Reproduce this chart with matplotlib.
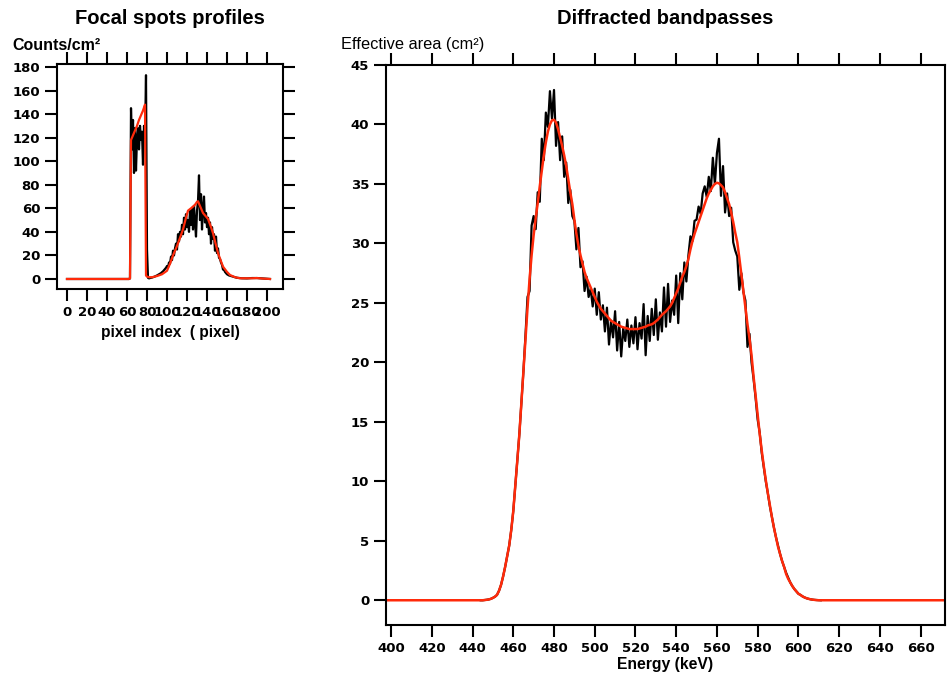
import matplotlib
matplotlib.use('Agg')
import matplotlib.pyplot as plt
from matplotlib.font_manager import FontProperties

# ---- left panel: focal spot profiles (pixel index vs counts/cm2) ----
spot_px = [0, 62, 63, 64, 65, 66, 67, 68, 69, 70, 71, 72, 73, 74, 75, 76, 77, 78, 79, 80,
           81, 82, 83, 84, 85, 86, 87, 88, 89, 90, 91, 92, 93, 94, 95, 96, 97, 98, 99,
           100, 101, 102, 103, 104, 105, 106, 107, 108, 109, 110, 111, 112, 113, 114, 115,
           116, 117, 118, 119, 120, 121, 122, 123, 124, 125, 126, 127, 128, 129, 130, 131,
           132, 133, 134, 135, 136, 137, 138, 139, 140, 141, 142, 143, 144, 145, 146, 147,
           148, 149, 150, 151, 152, 153, 154, 155, 156, 157, 158, 159, 160, 162, 164, 166,
           168, 170, 175, 180, 185, 190, 195, 203]
spot_counts = [0, 0, 0.5, 145, 110, 135, 90, 128, 92, 120, 128, 110, 130, 118, 125, 97, 130, 120, 173, 25,
               1, 0.5, 0.8, 1, 1.2, 1.5, 1.8, 2.2, 2.6, 3, 3.5, 4, 4.5, 5, 5.8, 6.5, 7.5, 8.5, 9.5,
               11, 10, 14, 13, 19, 16, 24, 20, 26, 30, 25, 38, 32, 40, 36, 46,
               38, 52, 42, 55, 44, 50, 40, 58, 46, 60, 42, 62, 48, 36, 58, 66,
               88, 50, 72, 42, 60, 70, 48, 56, 44, 52, 38, 48, 30, 44, 34, 38,
               24, 36, 22, 26, 18, 17, 14, 12, 8, 8, 6, 5, 4, 3, 2.5, 2,
               1.5, 1, 0.6, 0.5, 0.8, 0.8, 0.5, 0]

fit_px = [0, 62, 63, 64, 66, 68, 70, 72, 74, 76, 78, 79, 80, 82, 85, 90, 95, 100, 103,
          106, 110, 113, 116, 119, 121, 124, 128, 130, 131, 133, 136, 139, 141, 144, 146,
          148, 151, 154, 156, 160, 163, 168, 173, 185, 190, 195, 203]
fit_counts = [0, 0, 0.5, 118, 122, 126, 130, 135, 139, 143, 148, 3, 2, 1.5, 1.5, 2.5, 4, 7, 13,
              20, 28, 35, 42, 52, 58, 60, 63, 65.5, 66, 62, 56, 53, 51, 44, 38.8,
              32, 22, 15, 10.5, 6, 3.4, 1.5, 0.6, 0.6, 0.8, 0.4, 0]

# ---- right panel: diffracted bandpasses (energy vs effective area), 444..611 keV ----
energy = list(range(444, 612))
area_meas = [
    0, 0, 0.02, 0.04, 0.07, 0.12, 0.2, 0.3, 0.45, 0.8,              # 444
    1.3, 2.0, 2.8, 3.7, 4.6, 5.9, 7.5, 9.6, 11.8, 14.0,             # 454
    16.6, 19.3, 22.3, 25.5, 26.0, 31.5, 32.3, 31.2, 34.3, 33.5,     # 464
    38.8, 37.0, 41.0, 39.8, 42.8, 40.5, 42.9, 38.2, 40.2, 37.0,     # 474
    39.0, 35.6, 36.8, 33.4, 34.5, 32.3, 31.9, 29.5, 31.3, 28.0,     # 484
    28.5, 26.0, 27.2, 25.5, 26.2, 24.7, 26.2, 24.0, 25.9, 23.6,     # 494
    24.8, 22.6, 24.6, 21.5, 23.5, 22.1, 24.3, 21.0, 23.4, 20.5,     # 504
    22.9, 21.8, 23.6, 21.3, 23.1, 21.6, 23.8, 21.1, 23.3, 22.0,     # 514
    24.9, 20.6, 23.9, 21.8, 24.5, 22.3, 25.3, 21.9, 24.2, 22.6,     # 524
    26.3, 23.0, 26.6, 23.4, 25.2, 24.0, 27.3, 23.3, 27.5, 25.3,     # 534
    28.4, 26.8, 29.0, 30.6, 30.2, 31.9, 32.0, 33.1, 32.5, 34.2,     # 544
    34.8, 33.9, 35.6, 34.4, 37.2, 35.0, 37.6, 38.8, 34.0, 36.5,     # 554
    32.6, 34.2, 32.3, 33.0, 30.1, 29.4, 28.9, 26.1, 27.5, 25.9,     # 564
    25.2, 21.3, 22.4, 20.0, 18.6, 17.0, 15.2, 14.1, 12.4, 11.2,     # 574
    10.0, 9.0, 7.9, 7.0, 6.1, 5.3, 4.6, 3.9, 3.3, 2.8,              # 584
    2.3, 1.9, 1.5, 1.2, 0.95, 0.75, 0.55, 0.45, 0.33, 0.24,         # 594
    0.17, 0.12, 0.08, 0.05, 0.03, 0.02, 0.01, 0]                    # 604
area_fit = [
    0, 0, 0.02, 0.04, 0.07, 0.12, 0.2, 0.3, 0.45, 0.8,
    1.3, 2.0, 2.8, 3.7, 4.6, 5.9, 7.5, 9.6, 11.8, 14.0,
    16.6, 19.3, 22.0, 24.6, 27.0, 29.0, 30.7, 32.1, 33.4, 34.8,
    36.1, 37.4, 38.5, 39.4, 40.0, 40.35, 40.4, 40.15, 39.6, 38.9,
    38.2, 37.4, 36.5, 35.4, 34.3, 33.3, 32.0, 30.8, 29.8, 29.0,
    28.3, 27.6, 27.1, 26.7, 26.3, 25.9, 25.5, 25.1, 24.8, 24.5,
    24.3, 24.1, 23.9, 23.7, 23.5, 23.4, 23.3, 23.2, 23.1, 23.0,
    22.95, 22.9, 22.85, 22.8, 22.8, 22.8, 22.8, 22.8, 22.85, 22.9,
    22.95, 23.0, 23.1, 23.15, 23.2, 23.3, 23.45, 23.6, 23.8, 24.0,
    24.15, 24.3, 24.5, 24.7, 25.0, 25.4, 25.8, 26.2, 26.7, 27.2,
    27.6, 28.1, 28.7, 29.5, 30.2, 30.8, 31.3, 31.8, 32.3, 32.8,
    33.3, 33.8, 34.2, 34.5, 34.8, 35.0, 35.1, 35.05, 34.9, 34.7,
    34.3, 33.8, 33.3, 32.6, 31.8, 30.9, 30.1, 28.8, 27.4, 26.0,
    24.6, 23.2, 22.0, 20.6, 18.8, 17.2, 15.6, 14.0, 12.6, 11.3,
    10.1, 9.0, 8.0, 7.0, 6.1, 5.3, 4.5, 3.9, 3.3, 2.8,
    2.2, 1.8, 1.5, 1.2, 0.95, 0.75, 0.55, 0.45, 0.33, 0.24,
    0.17, 0.12, 0.08, 0.05, 0.03, 0.01, 0, 0]
# the fit runs flat at zero across the whole energy window
fit_energy = [397.5] + energy + [672]
fit_area = [0] + area_fit + [0]

spot_xticks = list(range(0, 201, 20))
spot_yticks = list(range(0, 181, 20))
energy_ticks = list(range(400, 661, 20))
area_ticks = list(range(0, 46, 5))

RED = '#ff2a0a'
tickfont = FontProperties(family='DejaVu Sans', weight='bold', size=9.5)
labfont = {'family': 'Liberation Sans', 'weight': 'bold'}


def style_axes(ax, right_ticks):
    for s in ax.spines.values():
        s.set_linewidth(1.5)
    ax.tick_params(direction='out', length=8.6, width=1.5, top=True, right=right_ticks,
                   labeltop=False, labelright=False, pad=3.5)
    for lab in ax.get_xticklabels() + ax.get_yticklabels():
        lab.set_fontproperties(tickfont)


fig = plt.figure(figsize=(9.47, 6.77), dpi=100, facecolor='w')
W, H = 947.0, 677.0

ax1 = fig.add_axes([57 / W, 1 - 289 / H, 226 / W, 225 / H])
ax1.plot(spot_px, spot_counts, color='k', lw=1.6)
ax1.plot(fit_px, fit_counts, color=RED, lw=1.6)
ax1.set_xlim(-10, 216)
ax1.set_ylim(-8.5, 182.5)
ax1.set_xticks(spot_xticks)
ax1.set_yticks(spot_yticks)
style_axes(ax1, True)

ax2 = fig.add_axes([386 / W, 1 - 625 / H, 559 / W, 560 / H])
ax2.plot(energy, area_meas, color='k', lw=1.6)
ax2.plot(fit_energy, fit_area, color=RED, lw=1.8)
ax2.set_xlim(397.5, 672)
ax2.set_ylim(-2.08, 45)
ax2.set_xticks(energy_ticks)
ax2.set_yticks(area_ticks)
style_axes(ax2, False)

fig.text(170 / W, 1 - 18 / H, 'Focal spots profiles', ha='center', va='center', fontsize=14.5, **labfont)
fig.text(665 / W, 1 - 18 / H, 'Diffracted bandpasses', ha='center', va='center', fontsize=14.5, **labfont)
fig.text(12 / W, 1 - 45 / H, 'Counts/cm\u00b2', ha='left', va='center', fontsize=11.5, **labfont)
fig.text(341 / W, 1 - 44 / H, 'Effective area (cm\u00b2)', ha='left', va='center', fontsize=11.8,
         family='Liberation Sans')
fig.text(170 / W, 1 - 332 / H, 'pixel index  ( pixel)', ha='center', va='center', fontsize=11.2, **labfont)
fig.text(665 / W, 1 - 665 / H, 'Energy (keV)', ha='center', va='center', fontsize=11.3, **labfont)

fig.savefig('out.png', dpi=100, facecolor='w')
